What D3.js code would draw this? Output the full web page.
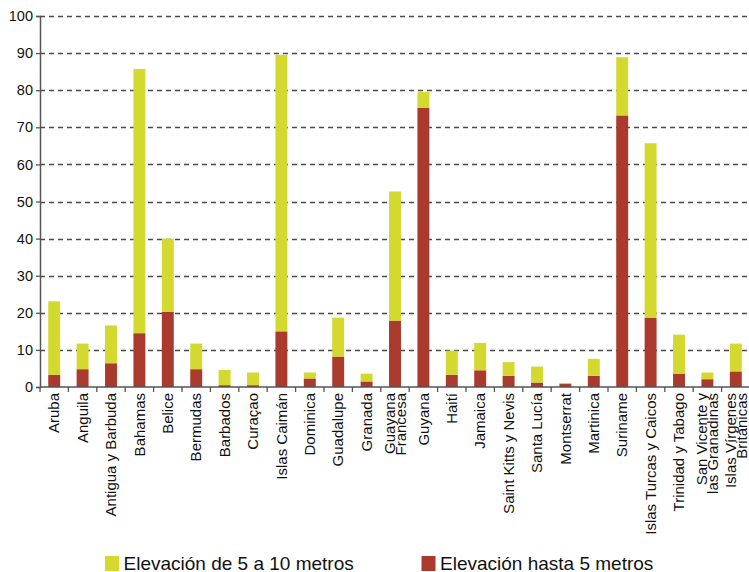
<!DOCTYPE html>
<html>
<head>
<meta charset="utf-8">
<script src="https://cdn.jsdelivr.net/npm/d3@7"></script>
<style>
  body { margin: 0; background: #fff; }
  svg { font-family: "Liberation Sans", Arial, sans-serif; display: block; }
</style>
</head>
<body>
<div id="chart"></div>
<script>
// Data
const categories = [
    "Aruba", "Anguila", "Antigua y Barbuda", "Bahamas", "Belice", "Bermudas",
    "Barbados", "Curaçao", "Islas Caimán", "Dominica", "Guadalupe", "Granada",
    "Guayana\nFrancesa", "Guyana", "Haití", "Jamaica", "Saint Kitts y Nevis",
    "Santa Lucía", "Montserrat", "Martinica", "Suriname", "Islas Turcas y Caicos",
    "Trinidad y Tabago", "San Vicente y\nlas Granadinas", "Islas Vírgenes\nBritánicas"
];
// Elevación hasta 5 metros (bottom, red)
const hasta5 = [3.3, 4.8, 6.4, 14.5, 20.3, 4.8, 0.5, 0.5, 15.0, 2.3, 8.2, 1.5,
    17.9, 75.3, 3.3, 4.5, 3.0, 1.2, 0.8, 3.0, 73.2, 18.7, 3.6, 2.1, 4.2];
// Elevación de 5 a 10 metros (stacked on top, yellow-green)
const de5a10 = [19.8, 6.9, 10.2, 71.2, 19.7, 6.9, 4.1, 3.4, 74.5, 1.6, 10.5, 2.1,
    34.8, 4.2, 6.5, 7.4, 3.7, 4.3, 0.3, 4.6, 15.7, 47.0, 10.5, 1.8, 7.5];
const yTicks = [0, 10, 20, 30, 40, 50, 60, 70, 80, 90, 100];

const seriesNames = ["Elevación hasta 5 metros", "Elevación de 5 a 10 metros"];
const colors = { hasta5: "#a93a2d", de5a10: "#d3d92f" };

const width = 749, height = 572;
const margin = { top: 16, left: 40 };
const plotBottom = 387;
const plotRight = 750;

const rows = categories.map((c, i) => ({ cat: c, hasta5: hasta5[i], de5a10: de5a10[i] }));
const stacked = d3.stack().keys(["hasta5", "de5a10"])(rows);

const svg = d3.select("#chart").append("svg")
    .attr("width", width)
    .attr("height", height);

const x = d3.scaleBand()
    .domain(categories)
    .range([margin.left, plotRight])
    .paddingInner(0.58)
    .paddingOuter(0.29);

const y = d3.scaleLinear()
    .domain([0, 100])
    .range([plotBottom, margin.top]);

// dashed gridlines
svg.append("g")
    .selectAll("line")
    .data(yTicks.filter(d => d > 0))
    .enter()
    .append("line")
    .attr("x1", margin.left)
    .attr("x2", width)
    .attr("y1", d => Math.round(y(d)) + 0.5)
    .attr("y2", d => Math.round(y(d)) + 0.5)
    .attr("stroke", "#4a4a4a")
    .attr("stroke-width", 1.3)
    .attr("stroke-dasharray", "5,4");

// bars
svg.append("g")
    .selectAll("g")
    .data(stacked)
    .enter()
    .append("g")
    .attr("fill", d => colors[d.key])
    .selectAll("rect")
    .data(d => d)
    .enter()
    .append("rect")
    .attr("x", d => x(d.data.cat))
    .attr("width", x.bandwidth())
    .attr("y", d => y(d[1]))
    .attr("height", d => y(d[0]) - y(d[1]));

// y axis
const yAxis = svg.append("g")
    .attr("transform", `translate(${margin.left},0)`)
    .call(d3.axisLeft(y).tickValues(yTicks).tickSize(4).tickPadding(3));
yAxis.select(".domain").attr("stroke", "#555").attr("stroke-width", 1.5);
yAxis.selectAll(".tick line").attr("stroke", "#555").attr("stroke-width", 1.3);
yAxis.selectAll(".tick text")
    .attr("font-size", "14.5px")
    .attr("fill", "#111")
    .attr("font-family", "Liberation Sans, Arial, sans-serif");

// x axis line and boundary ticks
svg.append("line")
    .attr("x1", margin.left)
    .attr("x2", width)
    .attr("y1", plotBottom)
    .attr("y2", plotBottom)
    .attr("stroke", "#555")
    .attr("stroke-width", 1.5);

const half = (x.step() - x.bandwidth()) / 2;
svg.append("g")
    .selectAll("line")
    .data(categories)
    .enter()
    .append("line")
    .attr("x1", d => x(d) - half)
    .attr("x2", d => x(d) - half)
    .attr("y1", plotBottom)
    .attr("y2", plotBottom + 5)
    .attr("stroke", "#555")
    .attr("stroke-width", 1.3);

// category labels (rotated)
const lineH = 11;
svg.append("g")
    .selectAll("text")
    .data(categories)
    .enter()
    .append("text")
    .attr("transform", d => `translate(${x(d) + x.bandwidth() / 2},393) rotate(-90)`)
    .attr("text-anchor", "end")
    .attr("font-size", "15px")
    .attr("fill", "#111")
    .each(function (d) {
        const lines = d.split("\n");
        const t = d3.select(this);
        lines.forEach((ln, i) => {
            const off = (i - (lines.length - 1) / 2) * lineH;
            t.append("tspan")
                .attr("x", 0)
                .attr("y", off)
                .attr("dy", "0.35em")
                .text(ln);
        });
    });

// legend
const legendItems = [
    { key: "de5a10", label: seriesNames[1], x: 105 },
    { key: "hasta5", label: seriesNames[0], x: 421.5 }
];
const legend = svg.append("g")
    .selectAll("g")
    .data(legendItems)
    .enter()
    .append("g")
    .attr("transform", d => `translate(${d.x},556)`);
legend.append("rect")
    .attr("width", 14)
    .attr("height", 15)
    .attr("fill", d => colors[d.key]);
legend.append("text")
    .attr("x", 18.5)
    .attr("y", 13.5)
    .attr("font-size", "19px")
    .attr("fill", "#111")
    .text(d => d.label);
</script>
</body>
</html>
